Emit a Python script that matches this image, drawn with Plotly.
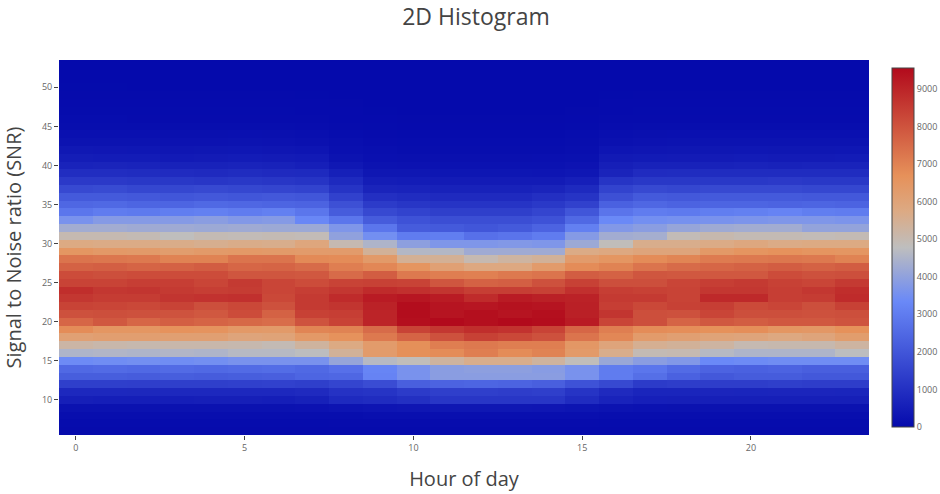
import plotly.graph_objects as go

hours = list(range(24))
snr = list(range(6, 54))
colorscale = [[0, "rgb(5,10,172)"], [0.35, "rgb(106,137,247)"], [0.5, "rgb(190,190,190)"],
              [0.6, "rgb(220,170,132)"], [0.7, "rgb(230,145,90)"], [1, "rgb(178,10,28)"]]

counts = [
 [20,18,18,18,18,18,18,18,20,22,22,22,22,22,22,20,18,18,18,18,18,18,18,18],   # 6
 [45,42,42,42,42,42,42,42,50,55,55,55,55,55,55,50,45,42,42,42,42,42,42,42],   # 7
 [100,95,95,95,95,95,95,100,110,125,130,130,130,130,130,120,100,95,95,95,95,95,95,95],  # 8
 [200,200,200,200,200,200,200,220,260,300,320,330,330,330,320,280,230,210,200,200,200,200,200,200],  # 9
 [550,540,540,540,550,550,540,600,830,900,1000,1150,1150,1150,1150,900,650,560,550,550,550,550,550,550],  # 10
 [800,800,780,800,800,800,800,850,1050,1100,1300,1400,1400,1350,1400,1100,850,700,700,720,700,720,720,700],  # 11
 [1400,1400,1380,1400,1400,1420,1450,1400,1550,1750,2250,2350,2400,2350,2250,1900,1650,1300,1350,1350,1350,1400,1350,1350],  # 12
 [2200,2200,2150,2200,2150,2200,2250,2400,2450,3200,3600,3900,3900,3900,3900,3600,3000,2650,2300,2050,2150,2150,2050,2050],  # 13
 [2500,2550,2500,2550,2500,2550,2600,2500,2700,3250,3600,3900,3950,3950,3850,3600,3000,2850,2550,2350,2300,2350,2250,2250],  # 14
 [3400,3450,3500,3450,3500,3600,3600,3600,4100,4650,4850,5300,5600,5600,5300,4850,4150,3900,3750,3350,3400,3450,3450,3450],  # 15
 [4500,4550,4500,4550,4500,4650,4650,4750,5400,6300,6720,6800,7100,6800,7000,6350,5600,4950,5000,4650,4500,4500,4500,4750],  # 16
 [5200,5100,5050,5100,5100,5050,4950,5300,5750,6300,6720,7100,7200,7100,7100,6450,5950,5500,5400,5250,5000,5050,5050,5250],  # 17
 [6100,6200,6200,6150,6150,5950,6000,6400,6650,7200,7650,8050,8400,8250,8050,7300,6900,6300,6150,6000,5950,5800,5950,6250],  # 18
 [6800,6500,6500,6650,6600,6400,6350,6950,7000,7500,8350,8600,8800,8700,8350,7600,7100,6800,6750,6700,6750,6500,6450,6700],  # 19
 [7600,7900,7600,7750,7650,7550,7450,8000,8350,9000,9450,9550,9450,9550,9500,9200,8300,8100,7650,7900,7800,7900,7900,8000],  # 20
 [8050,8100,8050,8000,7900,8150,7700,8400,8450,9000,9500,9350,9450,9350,9450,9100,8650,8100,8050,8300,8100,8100,8050,8100],  # 21
 [8350,8300,8250,8350,8100,8250,8050,8550,8650,9050,9500,9350,9300,9400,9350,9100,8450,8250,8400,8450,8200,8300,8100,8400],  # 22
 [8600,8500,8500,8650,8700,8750,8250,8550,8850,9200,9300,9200,8850,9200,9100,9050,8550,8550,8350,8900,8900,8450,8500,8850],  # 23
 [8800,8600,8650,8550,8450,8500,8300,8450,8600,8850,8750,8650,8450,8450,8400,8750,8450,8400,8350,8600,8600,8450,8600,8800],  # 24
 [8350,8350,8450,8450,8300,8550,8300,8150,8350,8400,8350,7950,7700,7750,8050,8400,8100,8100,8300,8450,8550,8400,8300,8550],  # 25
 [8150,8100,8150,8150,8150,7950,7950,7900,7500,7800,7200,7100,7050,7200,7300,7800,7700,7950,7900,7900,7900,8150,8050,8100],  # 26
 [7700,7750,7650,7700,7800,7600,7650,7500,7100,6900,6550,6100,5800,5800,6300,6800,7000,7300,7500,7600,7700,7800,7700,7800],  # 27
 [7300,7250,7200,7000,7000,7300,7300,6850,6800,6350,5450,5450,5000,5250,5400,6300,6500,6800,6950,7150,7200,7250,7200,7000],  # 28
 [6500,6400,6350,6250,6350,6400,6350,6300,6300,5400,4600,4600,4250,4250,4250,5700,5800,5950,5950,6400,6550,6650,6550,6500],  # 29
 [5750,5700,5700,5650,5550,5650,5600,5900,5000,4500,3950,3700,3700,3750,3700,4200,4850,5600,5600,5700,5850,5700,5750,5750],  # 30
 [5000,5000,4950,4800,4950,4900,4950,4900,4000,3500,3000,3050,2700,2800,3000,3800,4300,4350,4900,5050,4950,4950,4900,4950],  # 31
 [4300,4300,4250,4250,4200,4250,4200,4200,3700,2850,2150,2100,2000,2100,2350,3100,3750,3900,4100,4250,4300,4300,4050,4050],  # 32
 [3600,3800,3800,3800,3900,3750,3800,3300,2850,2150,1900,1800,1800,1800,1900,2500,3350,3500,3550,3600,3650,3700,3700,3650],  # 33
 [2850,3000,2950,3050,3100,3000,3100,2850,2150,1650,1500,1400,1400,1400,1550,2000,2800,3000,2950,3050,3100,3200,3050,3000],  # 34
 [2450,2500,2400,2400,2500,2450,2400,2350,1850,1300,1150,1100,1100,1100,1230,1450,2300,2450,2350,2400,2400,2350,2400,2350],  # 35
 [2100,2100,2050,2000,2050,2000,2050,2000,1450,980,900,850,850,850,980,1100,1850,2100,2050,2100,2100,2100,2050,2050],  # 36
 [1650,1700,1600,1600,1650,1600,1550,1500,1100,680,650,620,620,620,680,830,1500,1650,1600,1650,1650,1650,1600,1600],  # 37
 [1250,1250,1200,1200,1150,1200,1150,1100,830,500,480,450,450,450,450,560,1100,1200,1200,1200,1200,1250,1200,1200],  # 38
 [930,930,900,880,850,900,850,830,570,330,330,310,310,310,300,340,680,880,900,900,900,900,900,900],  # 39
 [660,680,650,620,620,650,620,560,370,230,220,210,210,210,210,250,550,620,640,640,650,640,650,650],  # 40
 [500,480,480,430,460,470,450,430,230,170,150,150,150,150,160,180,420,440,460,460,470,460,460,470],  # 41
 [370,350,340,320,330,340,320,290,170,120,105,105,105,105,105,130,290,320,330,330,340,330,330,340],  # 42
 [230,240,230,220,220,230,220,190,120,90,70,70,70,70,70,100,190,220,230,230,230,230,230,230],  # 43
 [170,160,160,150,150,160,150,130,80,60,48,48,48,48,48,70,130,150,160,160,160,160,160,160],  # 44
 [100,100,100,95,95,100,95,85,55,40,32,32,32,32,32,45,85,95,100,100,100,100,100,100],  # 45
 [70,70,65,60,60,65,60,55,38,25,20,20,20,20,20,30,55,60,65,65,65,65,65,65],  # 46
 [45,45,42,40,40,42,40,36,26,14,12,12,12,12,12,20,36,40,42,42,42,42,42,42],  # 47
 [30,30,28,26,26,28,26,24,17,9,8,7,7,7,7,13,24,26,28,28,28,28,28,28],  # 48
 [20,20,18,17,17,18,17,15,11,6,5,4,4,4,4,8,15,17,18,18,18,18,18,18],  # 49
 [14,14,12,11,11,12,11,10,7,4,3,3,3,3,3,5,10,11,12,12,12,12,12,12],  # 50
 [10,9,8,7,7,8,7,6,4,2,2,2,2,2,2,3,6,7,8,8,8,8,8,8],  # 51
 [6,5,5,4,4,5,4,4,2,1,1,1,1,1,1,2,4,4,5,5,5,5,5,5],  # 52
 [3,3,2,2,2,2,2,2,1,1,0,0,0,0,0,1,2,2,2,2,2,2,2,2],  # 53
]

fig = go.Figure(go.Heatmap(
    x=hours, y=snr, z=counts, colorscale=colorscale, zmin=0, zmax=9560,
    colorbar=dict(x=833/810, xpad=0, thickness=22, thicknessmode="pixels", len=1, ypad=8,
                  outlinewidth=1, outlinecolor="#444", ticks="", tick0=0, dtick=1000,
                  tickfont=dict(size=9, color="#666")),
))
fig.update_layout(
    width=940, height=494, autosize=False,
    margin=dict(l=59, r=71, t=60, b=59, autoexpand=False),
    font=dict(family='"Open Sans", verdana, arial, sans-serif', color="#444"),
    title=dict(text="2D Histogram", x=476/940, xanchor="center", y=1-17/494, yanchor="middle", font=dict(size=23, color="#444")),
    plot_bgcolor="white", paper_bgcolor="white",
    xaxis=dict(title=dict(text="Hour of day", font=dict(size=20, color="#444"), standoff=19), automargin=False,
               dtick=5, tick0=0, ticks="outside", ticklen=4, tickwidth=1, tickcolor="#444",
               tickfont=dict(size=9, color="#666"), showgrid=False, zeroline=False),
    yaxis=dict(title=dict(text="Signal to Noise ratio (SNR)", font=dict(size=20, color="#444"), standoff=14), automargin=False,
               dtick=5, tick0=0, ticks="outside", ticklen=4, tickwidth=1, tickcolor="#444",
               tickfont=dict(size=9, color="#666"), showgrid=False, zeroline=False),
)
fig.write_html("out.html", post_script="document.body.style.margin='0';", config={"displayModeBar": False})
